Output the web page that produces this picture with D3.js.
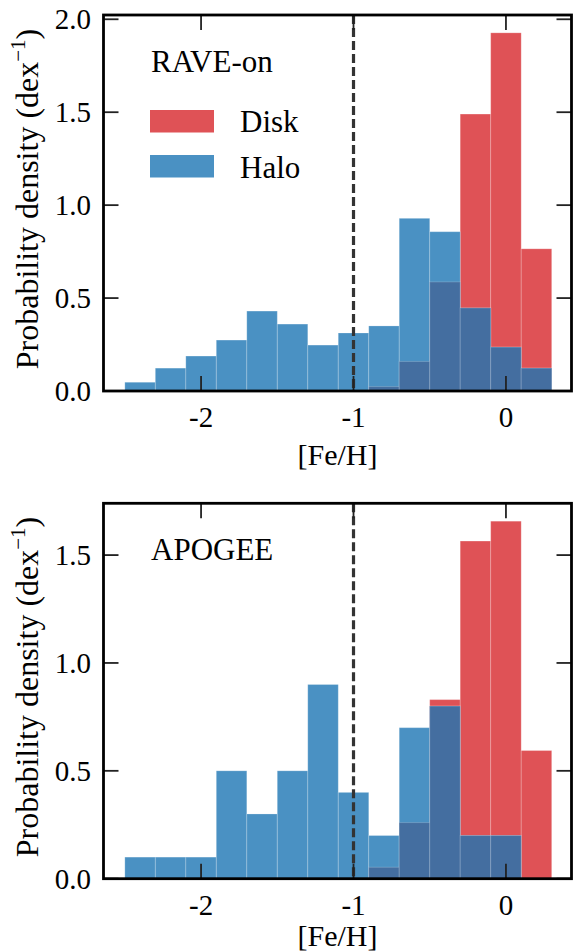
<!DOCTYPE html>
<html><head><meta charset="utf-8">
<script src="https://cdn.jsdelivr.net/npm/d3@7"></script>
<style>body{margin:0;background:#fff}svg{display:block}</style>
</head><body><svg id="c" width="573" height="952" font-family="'Liberation Serif', 'Times New Roman', Times, 'DejaVu Serif', serif"></svg>
<script>
const binStarts = [-2.5,-2.3,-2.1,-1.9,-1.7,-1.5,-1.3,-1.1,-0.9,-0.7,-0.5,-0.3,-0.1,0.1];
const binWidth = 0.2;
const raveHalo = [0.047,0.123,0.188,0.274,0.43,0.36,0.247,0.312,0.35,0.929,0.857,0.447,0.236,0.123];
const raveDisk = [0,0,0,0,0,0,0,0,0.024,0.159,0.587,1.49,1.927,0.765];
const apoHalo = [0.1,0.1,0.1,0.5,0.3,0.5,0.9,0.4,0.2,0.7,0.8,0.2,0.2,0];
const apoDisk = [0,0,0,0,0,0,0,0,0.053,0.26,0.83,1.565,1.657,0.594];
const xTicks = [-2,-1,0];
const yTicksTop = [0,0.5,1.0,1.5,2.0];
const yTicksBottom = [0,0.5,1.0,1.5];
const cutLine = -1;
const panelNames = ["RAVE-on","APOGEE"];
const legendLabels = ["Disk","Halo"];

const colDisk = "#df5256", colHalo = "#4a91c3", colBoth = "#446ea0";
const svg = d3.select("#c");
const left = 103.5, right = 571.5;
const x = d3.scaleLinear().domain([-2.64, 0.43]).range([left, right]);

function panel(top, bottom, ymax, halo, disk, yTicks, name, legend, xlabOff) {
  const y = d3.scaleLinear().domain([0, ymax]).range([bottom, top]);
  const g = svg.append("g");
  const data = binStarts.map((b,i)=>({x0:b, x1:b+binWidth, h:halo[i], d:disk[i]}));
  const bar = (sel, acc, col) => sel.selectAll(null).data(data.filter(e=>acc(e)>0)).enter().append("rect")
    .attr("x", e=>x(e.x0)).attr("width", e=>x(e.x1)-x(e.x0))
    .attr("y", e=>y(acc(e))).attr("height", e=>y(0)-y(acc(e)))
    .attr("fill", col).attr("stroke","#fff").attr("stroke-opacity",0.2).attr("stroke-width",1);
  bar(g, e=>e.d, colDisk);
  bar(g, e=>e.h, colHalo);
  bar(g, e=>Math.min(e.h,e.d), colBoth);
  g.append("line").attr("x1",x(cutLine)).attr("x2",x(cutLine)).attr("y1",top).attr("y2",bottom)
    .attr("stroke","#333").attr("stroke-width",3.2).attr("stroke-dasharray","9,4");
  const tl = 15;
  xTicks.forEach(t=>{
    g.append("line").attr("x1",x(t)).attr("x2",x(t)).attr("y1",bottom).attr("y2",bottom-tl).attr("stroke","#222").attr("stroke-width",1.8);
    g.append("line").attr("x1",x(t)).attr("x2",x(t)).attr("y1",top).attr("y2",top+tl).attr("stroke","#222").attr("stroke-width",1.8);
    g.append("text").attr("x",x(t)).attr("y",bottom+36).attr("text-anchor","middle").attr("font-size",29).text(t<0?"-"+Math.abs(t):String(t));
  });
  yTicks.forEach(t=>{
    g.append("line").attr("x1",left).attr("x2",left+tl).attr("y1",y(t)).attr("y2",y(t)).attr("stroke","#222").attr("stroke-width",1.8);
    g.append("line").attr("x1",right).attr("x2",right-tl).attr("y1",y(t)).attr("y2",y(t)).attr("stroke","#222").attr("stroke-width",1.8);
    g.append("text").attr("x",91).attr("y",y(t)+10).attr("text-anchor","end").attr("font-size",29).text(t.toFixed(1));
  });
  g.append("rect").attr("x",left).attr("y",top).attr("width",right-left).attr("height",bottom-top)
    .attr("fill","none").attr("stroke","#000").attr("stroke-width",2.8);
  g.append("text").attr("x",(left+right)/2).attr("y",bottom+xlabOff).attr("text-anchor","middle").attr("font-size",30).text("[Fe/H]");
  const yl = g.append("text").attr("transform",`translate(38,${(top+bottom)/2 - 4}) rotate(-90)`).attr("text-anchor","middle").attr("font-size",32);
  yl.append("tspan").text("Probability density (dex");
  yl.append("tspan").attr("font-size",21).attr("dy",-13).text("\u22121");
  yl.append("tspan").attr("dy",13).text(")");
  g.append("text").attr("x",151).attr("y",top+57).attr("font-size",31).text(name);
  if (legend) {
    [colDisk,colHalo].forEach((c,i)=>{
      g.append("rect").attr("x",150).attr("y",top+95+i*45).attr("width",64).attr("height",22.5).attr("fill",c);
      g.append("text").attr("x",240).attr("y",top+117+i*45.5).attr("font-size",31).text(legendLabels[i]);
    });
  }
}
panel(15, 391, 2.023, raveHalo, raveDisk, yTicksTop, panelNames[0], true, 74);
panel(503.3, 878.7, 1.74, apoHalo, apoDisk, yTicksBottom, panelNames[1], false, 67);
</script></body></html>
